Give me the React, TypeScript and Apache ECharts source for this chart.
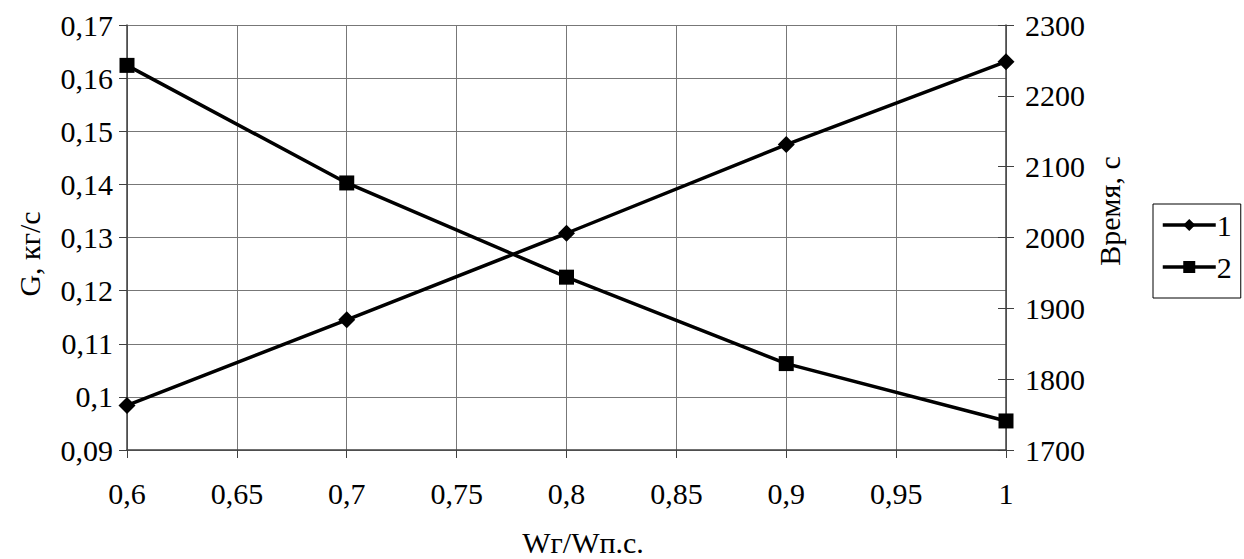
import React, { useEffect, useRef } from "react";
import * as echarts from "echarts";

const xValues = [0.6, 0.7, 0.8, 0.9, 1.0];
const series1G = [0.0984, 0.1145, 0.1308, 0.1475, 0.1631];
const series2Time = [2243, 2077, 1944, 1822, 1741];
const legendNames = ["1", "2"];
const xAxisName = "Wг/Wп.с.";
const leftAxisName = "G, кг/с";
const rightAxisName = "Время, с";

const FONT = '"Liberation Serif", "Times New Roman", serif';

const fmt = (v: number) => parseFloat(v.toFixed(2)).toString().replace(".", ",");

export default function App() {
  const ref = useRef<HTMLDivElement>(null);
  useEffect(() => {
    if (!ref.current) return;
    const chart = echarts.init(ref.current, undefined, { renderer: "svg" });
    const axisColor = "#404040";
    const gridColor = "#777777";
    chart.setOption({
      animation: false,
      backgroundColor: "#ffffff",
      textStyle: { fontFamily: FONT, color: "#000" },
      grid: { left: 127, right: 238, top: 25, bottom: 109 },
      legend: {
        orient: "vertical",
        left: 1153,
        top: 204,
        data: legendNames,
        itemWidth: 53,
        itemHeight: 15,
        itemGap: 12,
        padding: [6, 9, 16, 8],
        borderColor: "#000",
        borderWidth: 1,
        lineStyle: { width: 3.5 },
        textStyle: { fontFamily: FONT, fontSize: 30, color: "#000", padding: [0, 0, 0, -4] },
      },
      xAxis: {
        type: "value",
        min: 0.6,
        max: 1,
        interval: 0.05,
        axisLine: { show: true, lineStyle: { color: axisColor, width: 1.5 } },
        axisTick: { show: true, length: 8, lineStyle: { color: axisColor } },
        axisLabel: { formatter: fmt, fontFamily: FONT, fontSize: 30, color: "#000", margin: 28 },
        splitLine: { show: true, lineStyle: { color: gridColor, width: 1 } },
      },
      yAxis: [
        {
          type: "value",
          min: 0.09,
          max: 0.17,
          interval: 0.01,
          axisLine: { show: true, lineStyle: { color: axisColor, width: 1.5 } },
          axisTick: { show: true, length: 8, lineStyle: { color: axisColor } },
          axisLabel: { formatter: fmt, fontFamily: FONT, fontSize: 30, color: "#000", margin: 14 },
          splitLine: { show: true, lineStyle: { color: gridColor, width: 1 } },
        },
        {
          type: "value",
          min: 1700,
          max: 2300,
          interval: 100,
          position: "right",
          axisLine: { show: true, lineStyle: { color: axisColor, width: 1.5 } },
          axisTick: { show: true, length: 8, lineStyle: { color: axisColor } },
          axisLabel: { formatter: (v: number) => String(v), fontFamily: FONT, fontSize: 30, color: "#000", margin: 19 },
          splitLine: { show: false },
        },
        {
          type: "value",
          min: 1700,
          max: 2300,
          interval: 100,
          position: "right",
          offset: 0,
          axisLine: { show: false },
          axisTick: { show: true, inside: true, length: 8, lineStyle: { color: axisColor } },
          axisLabel: { show: false },
          splitLine: { show: false },
        },
      ],
      series: [
        {
          name: legendNames[0],
          type: "line",
          yAxisIndex: 0,
          data: xValues.map((x, i) => [x, series1G[i]]),
          symbol: "diamond",
          symbolSize: 17,
          lineStyle: { color: "#000", width: 3.5 },
          itemStyle: { color: "#000" },
        },
        {
          name: legendNames[1],
          type: "line",
          yAxisIndex: 1,
          data: xValues.map((x, i) => [x, series2Time[i]]),
          symbol: "rect",
          symbolSize: 15,
          lineStyle: { color: "#000", width: 3.5 },
          itemStyle: { color: "#000" },
        },
      ],
      graphic: [
        {
          type: "text",
          x: 29,
          y: 254,
          rotation: Math.PI / 2,
          style: { text: leftAxisName, font: `30px ${FONT}`, fill: "#000", align: "center", verticalAlign: "middle" },
        },
        {
          type: "text",
          x: 1109,
          y: 211,
          rotation: Math.PI / 2,
          style: { text: rightAxisName, font: `30px ${FONT}`, fill: "#000", align: "center", verticalAlign: "middle" },
        },
        {
          type: "text",
          x: 583,
          y: 542,
          style: { text: xAxisName, font: `30px ${FONT}`, fill: "#000", align: "center", verticalAlign: "middle" },
        },
      ],
    });
    return () => chart.dispose();
  }, []);
  return <div ref={ref} style={{ position: "fixed", left: 0, top: 0, width: 1244, height: 559 }} />;
}
